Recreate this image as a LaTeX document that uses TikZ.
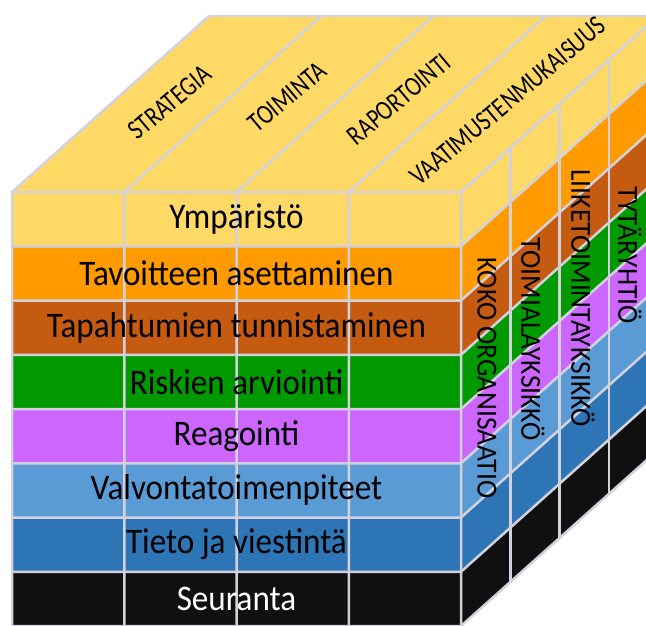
\documentclass[tikz,border=0pt]{standalone}
\usepackage{fontspec}
\setmainfont{Carlito}
\usepackage{xcolor}
\definecolor{kelta}{HTML}{FFD966}
\definecolor{oranssi}{HTML}{FF9A00}
\definecolor{ruskea}{HTML}{C55A11}
\definecolor{vihrea}{HTML}{009A00}
\definecolor{violetti}{HTML}{CC66FF}
\definecolor{vaalsin}{HTML}{5B9BD5}
\definecolor{sininen}{HTML}{2E75B6}
\definecolor{musta}{HTML}{101010}
\definecolor{viiva}{HTML}{D2D2DE}
\tikzset{
  viivat/.style={draw=viiva,line width=2.5pt},
  etuteksti/.style={font=\fontsize{36}{36}\selectfont,xscale=0.92},
  ylateksti/.style={font=\fontsize{28}{28}\selectfont,rotate=40,xscale=0.8},
  sivuteksti/.style={font=\fontsize{29}{29}\selectfont,rotate=-90,xscale=0.95}
}

\begin{document}
\begin{tikzpicture}[x=1pt,y=-1pt]
    \useasboundingbox (0,0) rectangle (646,626);
    \clip (0,0) rectangle (646,626);
    % top face
    \fill[kelta] (12,192) -- ++(197,-176) -- ++(449,0) -- (461,192) -- cycle;
    % front and right faces, one row at a time
    \foreach \c [count=\i from 0] in {kelta,oranssi,ruskea,vihrea,violetti,vaalsin,sininen,musta} {
        \fill[\c] (12,192+54.25*\i) rectangle (461,246.25+54.25*\i);
        \fill[\c] (461,192+54.25*\i) -- ++(197,-176) -- ++(0,54.25) -- ++(-197,176) -- cycle;
    }
    % grid lines
    \foreach \i in {0,...,8} {
        \draw[viivat] (12,192+54.25*\i) -- (461,192+54.25*\i) -- ++(197,-176);
    }
    \foreach \i in {0,...,4} {
        \draw[viivat] (12+112.25*\i,626) -- (12+112.25*\i,192) -- ++(197,-176);
        \draw[viivat] (461+49.25*\i,626-44*\i) -- (461+49.25*\i,192-44*\i);
    }
    \draw[viivat] (209,16) -- (658,16);
    % front labels
    \foreach \t [count=\i from 0] in {Ympäristö,Tavoitteen asettaminen,Tapahtumien tunnistaminen,Riskien arviointi,Reagointi,Valvontatoimenpiteet,Tieto ja viestintä} {
        \node[etuteksti] (rivi\i) at (236.5,219+54.25*\i) {\t};
    }
    \node[etuteksti,text=white] (seuranta) at (236.5,599) {Seuranta};
    % top labels
    \node[ylateksti] (strategia) at (170,102) {STRATEGIA};
    \node[ylateksti] (toiminta) at (287,97) {TOIMINTA};
    \node[ylateksti] (raportointi) at (399,99) {RAPORTOINTI};
    \node[ylateksti] (vaatimukset) at (508,101) {VAATIMUSTENMUKAISUUS};
    % side labels
    \node[sivuteksti] (koko) at (487,378) {KOKO ORGANISAATIO};
    \node[sivuteksti] (toimiala) at (533,339) {TOIMIALAYKSIKKÖ};
    \node[sivuteksti] (liiketoiminta) at (583,298) {LIIKETOIMINTAYKSIKKÖ};
    \node[sivuteksti] (tytar) at (630,255) {TYTÄRYHTIÖ};
\end{tikzpicture}
\end{document}
